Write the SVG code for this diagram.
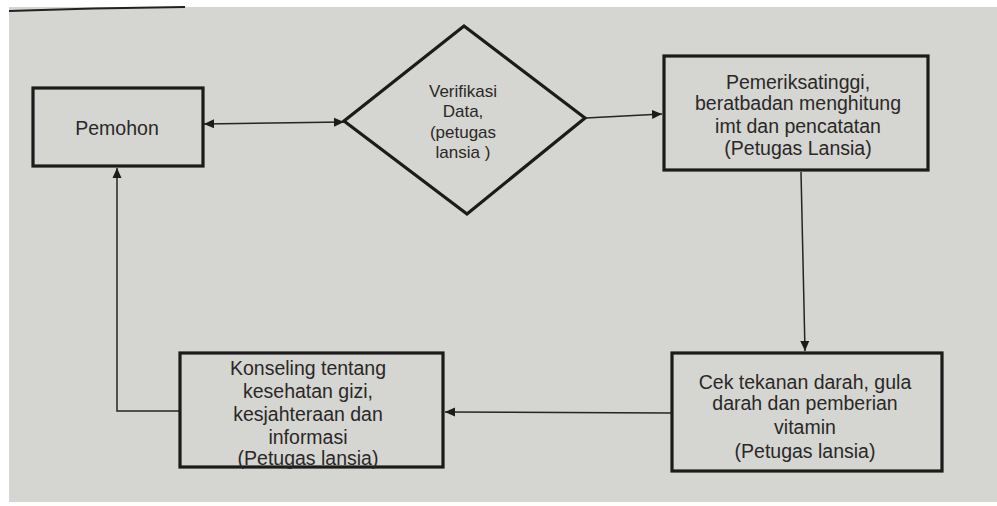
<svg xmlns="http://www.w3.org/2000/svg" width="997" height="506" viewBox="0 0 997 506">
<style>
.box{fill:none;stroke:#1c1a1a;stroke-width:3.2}
.ln{fill:none;stroke:#262424;stroke-width:1.5}
text{font-family:"Liberation Sans",Arial,sans-serif;fill:#2a2828;text-anchor:middle}
.t{font-size:19.5px}
.s{font-size:17px}
</style>
<defs>
<marker id="ah" viewBox="0 0 10 10" refX="10" refY="5" markerWidth="10" markerHeight="10" markerUnits="userSpaceOnUse" orient="auto-start-reverse">
<path d="M0,0.5 L10,5 L0,9.5 Z" fill="#1c1a1a"/>
</marker>
</defs>
<rect x="0" y="0" width="997" height="506" fill="#ffffff"/>
<rect x="9" y="7" width="988" height="495" fill="#d5d5d1"/>
<path d="M9,11 Q90,8 185,7" stroke="#222" stroke-width="2" fill="none"/>
<g id="connectors">
<line class="ln" x1="204" y1="124" x2="344" y2="122" marker-start="url(#ah)" marker-end="url(#ah)"/>
<line class="ln" x1="586" y1="118" x2="662" y2="114" marker-end="url(#ah)"/>
<line class="ln" x1="801" y1="172" x2="805" y2="351" marker-end="url(#ah)"/>
<line class="ln" x1="671" y1="413" x2="445" y2="412" marker-end="url(#ah)"/>
<polyline class="ln" points="180,411 117,411 117,168" marker-end="url(#ah)"/>
</g>
<g id="pemohon">
<rect class="box" x="33" y="88" width="170" height="78"/>
<text class="t" x="117" y="135">Pemohon</text>
</g>
<g id="verifikasi">
<polygon class="box" points="464,26 585,118 467,214 344,121"/>
<text class="s" x="463" y="97">Verifikasi</text>
<text class="s" x="463" y="117">Data,</text>
<text class="s" x="463" y="138">(petugas</text>
<text class="s" x="463" y="158">lansia )</text>
</g>
<g id="pemeriksaan">
<rect class="box" x="664" y="56" width="264" height="114"/>
<text class="t" x="798" y="89">Pemeriksatinggi,</text>
<text class="t" x="798" y="110">beratbadan menghitung</text>
<text class="t" x="798" y="133">imt dan pencatatan</text>
<text class="t" x="798" y="155">(Petugas Lansia)</text>
</g>
<g id="cek">
<rect class="box" x="672" y="353" width="270" height="118"/>
<text class="t" x="805" y="389">Cek tekanan darah, gula</text>
<text class="t" x="805" y="410">darah dan pemberian</text>
<text class="t" x="805" y="434">vitamin</text>
<text class="t" x="805" y="458">(Petugas lansia)</text>
</g>
<g id="konseling">
<rect class="box" x="180" y="353" width="263" height="114"/>
<text class="t" x="308" y="375">Konseling tentang</text>
<text class="t" x="308" y="398">kesehatan gizi,</text>
<text class="t" x="308" y="421">kesjahteraan dan</text>
<text class="t" x="308" y="444">informasi</text>
<text class="t" x="308" y="465">(Petugas lansia)</text>
</g>
</svg>
